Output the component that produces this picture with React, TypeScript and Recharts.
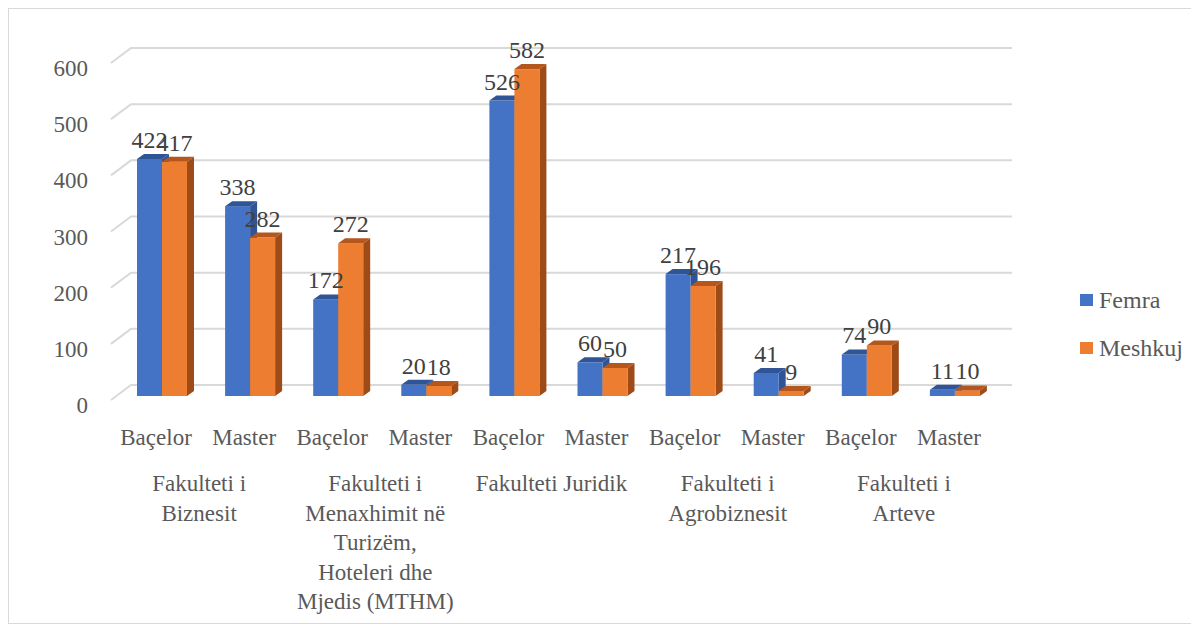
import { BarChart, Bar, XAxis, YAxis, CartesianGrid, Legend, LabelList } from "recharts";

const levels = ["Baçelor", "Master", "Baçelor", "Master", "Baçelor", "Master", "Baçelor", "Master", "Baçelor", "Master"];
const faculties = [
  "Fakulteti i\nBiznesit",
  "Fakulteti i\nMenaxhimit në\nTurizëm,\nHoteleri dhe\nMjedis (MTHM)",
  "Fakulteti Juridik",
  "Fakulteti i\nAgrobiznesit",
  "Fakulteti i\nArteve",
];
const femra = [422, 338, 172, 20, 526, 60, 217, 41, 74, 11];
const meshkuj = [417, 282, 272, 18, 582, 50, 196, 9, 90, 10];
const yTicks = [0, 100, 200, 300, 400, 500, 600];

const data = levels.map((level, i) => ({
  level,
  faculty: faculties[Math.floor(i / 2)],
  femra: femra[i],
  meshkuj: meshkuj[i],
}));

const FONT = '"Liberation Serif", Tinos, "Times New Roman", "DejaVu Serif", serif';
const TEXT = "#595959";
// 3d look: bars sit a little behind the front floor edge, walls further back
const OX = 7;
const OY = -4;
const DX = 7;
const DY = -5;
const WALL_DX = 20;
const WALL_DY = -15;

const txt = { fontFamily: FONT, fontSize: 23 };

const makeBar = (top: string, side: string) => (props: any) => {
  const { x, y, width, height, fill } = props;
  const fx = x + OX;
  const fy = y + OY;
  return (
    <g>
      <polygon
        points={`${fx + width},${fy} ${fx + width + DX},${fy + DY} ${fx + width + DX},${fy + height + DY} ${fx + width},${fy + height}`}
        fill={side}
      />
      <rect x={fx} y={fy} width={width} height={height} fill={fill} />
      <polygon
        points={`${fx},${fy} ${fx + DX},${fy + DY} ${fx + width + DX},${fy + DY} ${fx + width},${fy}`}
        fill={top}
      />
    </g>
  );
};

const valueLabel = (props: any) => {
  const { x, y, width, value } = props;
  return (
    <text
      x={x + OX + width / 2}
      y={y + OY - 11}
      textAnchor="middle"
      style={{ fontFamily: FONT, fontSize: 24 }}
      fill="#404040"
    >
      {value}
    </text>
  );
};

const gridLine = (props: any) => {
  const { x1, y1, x2 } = props;
  return (
    <path
      key={props.key}
      d={`M${x1},${y1} L${x1 + WALL_DX},${y1 + WALL_DY} L${x2 + WALL_DX},${y1 + WALL_DY}`}
      fill="none"
      stroke="#d9d9d9"
      strokeWidth={2}
    />
  );
};

const yTick = (props: any) => {
  const { y, payload } = props;
  return (
    <text x={79} y={y + 5} dy="0.35em" textAnchor="end" style={txt} fill={TEXT}>
      {payload.value}
    </text>
  );
};

const levelTick = (props: any) => {
  const { x, y, payload } = props;
  return (
    <text x={x + 1} y={y + 37} dy="0.35em" textAnchor="middle" style={txt} fill={TEXT}>
      {payload.value}
    </text>
  );
};

const facultyTick = (props: any) => {
  const { x, y, payload } = props;
  const lines = String(payload.value).split("\n");
  return (
    <text x={x} y={y + 43} textAnchor="middle" style={txt} fill={TEXT}>
      {lines.map((l, i) => (
        <tspan key={i} x={x} dy={i === 0 ? "0.35em" : 29.5}>
          {l}
        </tspan>
      ))}
    </text>
  );
};

const legendContent = () => (
  <div style={{ fontFamily: FONT, fontSize: 24, color: TEXT }}>
    {[
      { name: "Femra", color: "#4472C4" },
      { name: "Meshkuj", color: "#ED7D31" },
    ].map((item) => (
      <div key={item.name} style={{ display: "flex", alignItems: "center", height: 48 }}>
        <span style={{ display: "inline-block", width: 13, height: 12, background: item.color, marginRight: 6 }} />
        <span>{item.name}</span>
      </div>
    ))}
  </div>
);

export default function App() {
  return (
    <div style={{ width: 1191, height: 616, border: "1px solid #d9d9d9", boxSizing: "border-box", background: "#fff" }}>
      <style>{"html,body{overflow:hidden}"}</style>
      <BarChart
        width={1189}
        height={614}
        data={data}
        margin={{ top: 54, right: 206, bottom: 0, left: 0 }}
        barSize={25}
        barGap={0}
      >
        <CartesianGrid vertical={false} horizontal={gridLine} />
        <XAxis dataKey="level" axisLine={false} tickLine={false} tickSize={0} tickMargin={0} height={40} tick={levelTick} interval={0} />
        <XAxis
          xAxisId="group"
          dataKey="faculty"
          allowDuplicatedCategory={false}
          axisLine={false}
          tickLine={false}
          tickSize={0}
          tickMargin={0}
          height={183}
          tick={facultyTick}
          interval={0}
        />
        <YAxis domain={[0, 600]} ticks={yTicks} width={102} axisLine={false} tickLine={false} tick={yTick} />
        <Legend
          layout="horizontal"
          verticalAlign="middle"
          align="center"
          content={legendContent}
          wrapperStyle={{ left: 1071, top: 267, width: 120 }}
        />
        <Bar dataKey="femra" name="Femra" fill="#4472C4" isAnimationActive={false} shape={makeBar("#2F5597", "#2F5597")}>
          <LabelList dataKey="femra" content={valueLabel} />
        </Bar>
        <Bar dataKey="meshkuj" name="Meshkuj" fill="#ED7D31" isAnimationActive={false} shape={makeBar("#B5561C", "#9E4B18")}>
          <LabelList dataKey="meshkuj" content={valueLabel} />
        </Bar>
      </BarChart>
    </div>
  );
}
